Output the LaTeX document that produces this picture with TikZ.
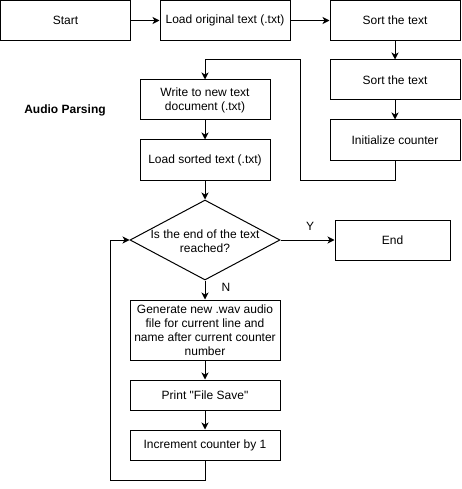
\documentclass[tikz,border=0pt]{standalone}
\usepackage{fontspec}
\setmainfont{Liberation Sans}
\usetikzlibrary{arrows.meta,shapes.geometric}
\begin{document}
\begin{tikzpicture}[x=1pt,y=-1pt,
  every node/.style={font=\fontsize{12}{14}\selectfont},
  procbox/.style={draw, line width=1pt, minimum width=130pt, minimum height=40pt, inner sep=0pt, align=center},
  decbox/.style={draw, diamond, line width=1pt, minimum width=150pt, minimum height=80pt, inner sep=0pt},
  flow/.style={line width=1pt, -{Stealth[length=7pt,width=7pt,inset=2pt]}},
  lbl/.style={inner sep=0pt}
]
\useasboundingbox (0,0) rectangle (461,489);
\node[procbox] (start) at (65.5,20.5) {Start};
\node[procbox] (load) at (225,20.5) {Load original text (.txt)};
\node[procbox] (sort1) at (395,20.5) {Sort the text};
\node[procbox] (sort2) at (395,80) {Sort the text};
\node[procbox] (init) at (395,140) {Initialize counter};
\node[procbox] (write) at (205,100) {Write to new text\\document (.txt)};
\node[procbox] (loads) at (205,160) {Load sorted text (.txt)};
\node[decbox] (dec) at (205,240) {};
\node[lbl, align=center] (dectext) at (205,241) {Is the end of the text\\reached?};
\node[draw, line width=1pt, minimum width=115pt, minimum height=40pt, inner sep=0pt] (end) at (392.5,240) {End};
\node[procbox, minimum width=150pt, minimum height=60pt] (gen) at (205,330) {Generate new .wav audio\\file for current line and\\name after current counter\\number};
\node[procbox, minimum width=150pt, minimum height=30pt] (print) at (205,395) {Print \textquotedbl File Save\textquotedbl};
\node[procbox, minimum width=150pt, minimum height=30pt] (inc) at (205,445) {Increment counter by 1};
\node[lbl, font=\fontsize{12}{14}\selectfont\bfseries] (title) at (65,110) {Audio Parsing};
\node[lbl] (ylab) at (310,226) {Y};
\node[lbl] (nlab) at (226,287) {N};
\coordinate (c1) at (300,180);
\coordinate (c2) at (300,60);
\coordinate (c3) at (110,480);
\draw[flow] (start) -- (load);
\draw[flow] (load) -- (sort1);
\draw[flow] (sort1) -- (sort2);
\draw[flow] (sort2) -- (init);
\draw[flow] (init.south) |- (c1) -- (c2) -| (write.north);
\draw[flow] (write) -- (loads);
\draw[flow] (loads.south) -- (dec.north);
\draw[flow] (dec.east) -- (end.west);
\draw[flow] (dec.south) -- (gen.north);
\draw[flow] (gen) -- (print);
\draw[flow] (print) -- (inc);
\draw[flow] (inc.south) |- (c3) |- (dec.west);
\end{tikzpicture}
\end{document}
